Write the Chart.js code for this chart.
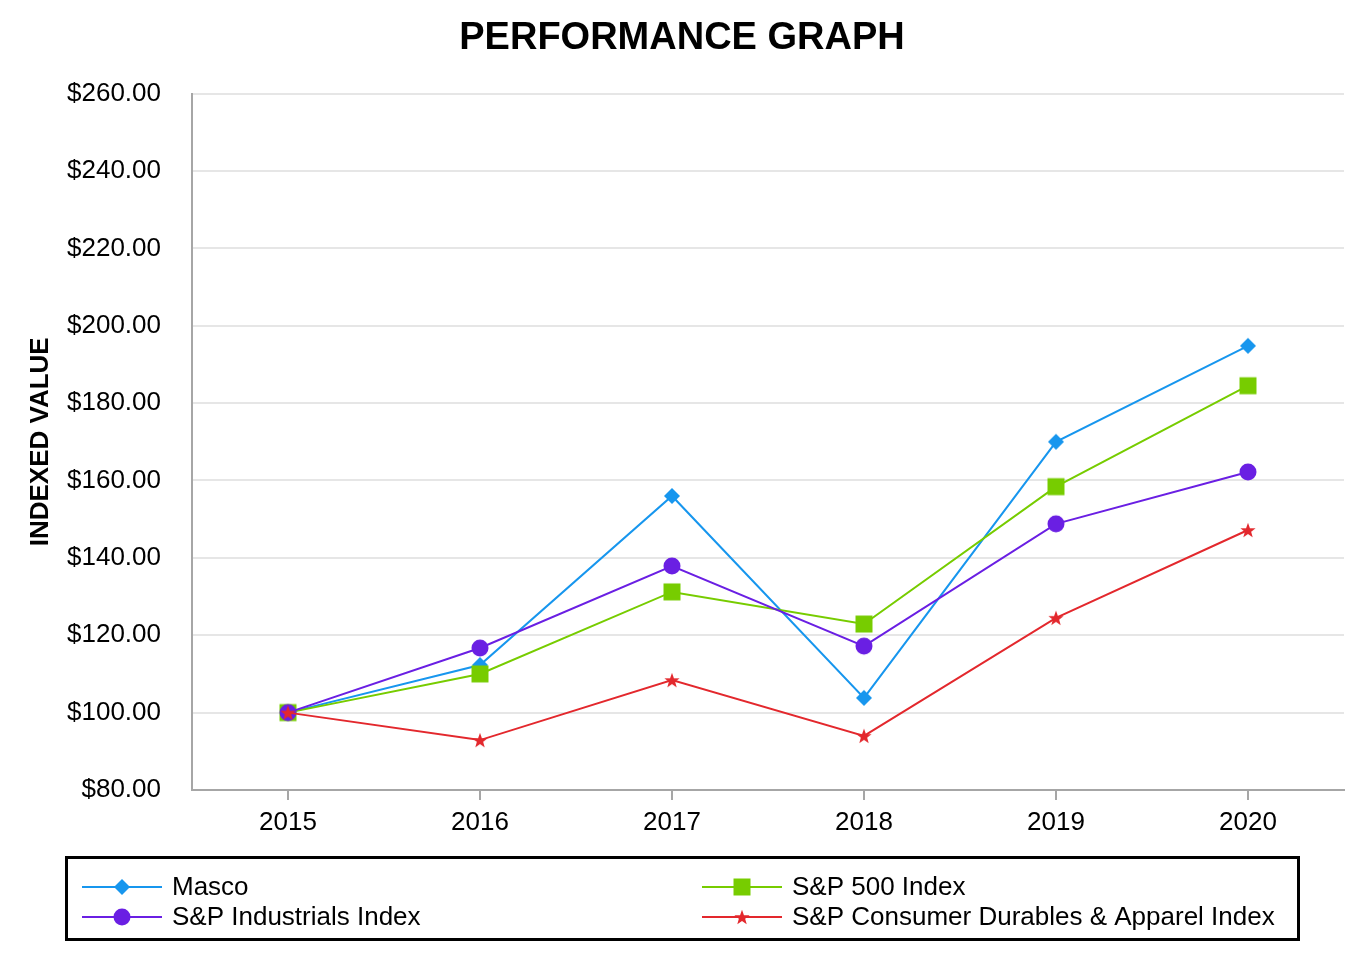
<!DOCTYPE html>
<html>
<head>
<meta charset="utf-8">
<script src="https://cdn.jsdelivr.net/npm/chart.js@4/dist/chart.umd.min.js"></script>
<style>
  html, body { margin: 0; padding: 0; background: #ffffff; }
  #wrap { width: 1364px; height: 960px; }
</style>
</head>
<body>
<div id="wrap"><canvas id="c" width="1364" height="960"></canvas></div>
<script>
const years = ['2015', '2016', '2017', '2018', '2019', '2020'];
const masco = [100.0, 112.3, 156.0, 103.8, 170.0, 194.8];
const sp500 = [100.0, 110.0, 131.2, 122.9, 158.4, 184.5];
const spIndustrials = [100.0, 116.7, 137.9, 117.2, 148.8, 162.2];
const spConsumer = [100.0, 92.9, 108.4, 94.0, 124.5, 147.2];
const seriesNames = ['Masco', 'S&P 500 Index', 'S&P Industrials Index', 'S&P Consumer Durables & Apparel Index'];

const COLORS = {
  masco: '#1796ee',
  sp500: '#77cc00',
  ind: '#6a1fe3',
  cons: '#e3282d'
};

function makeMarker(kind, color) {
  const s = 22;
  const c = document.createElement('canvas');
  c.width = s; c.height = s;
  const ctx = c.getContext('2d');
  ctx.fillStyle = color;
  const m = s / 2;
  ctx.beginPath();
  if (kind === 'diamond') {
    const r = 8;
    ctx.moveTo(m, m - r); ctx.lineTo(m + r, m); ctx.lineTo(m, m + r); ctx.lineTo(m - r, m);
    ctx.closePath();
  } else if (kind === 'square') {
    ctx.rect(m - 8.5, m - 8.5, 17, 17);
  } else if (kind === 'circle') {
    ctx.arc(m, m, 8.5, 0, Math.PI * 2);
  } else if (kind === 'star') {
    const R = 8, r = 3.3;
    for (let i = 0; i < 10; i++) {
      const a = -Math.PI / 2 + i * Math.PI / 5;
      const rr = i % 2 === 0 ? R : r;
      const x = m + rr * Math.cos(a), y = m + rr * Math.sin(a) + 0.8;
      if (i === 0) ctx.moveTo(x, y); else ctx.lineTo(x, y);
    }
    ctx.closePath();
  }
  ctx.fill();
  return c;
}

const markers = {
  masco: makeMarker('diamond', COLORS.masco),
  sp500: makeMarker('square', COLORS.sp500),
  ind: makeMarker('circle', COLORS.ind),
  cons: makeMarker('star', COLORS.cons)
};

const legendItems = [
  { text: seriesNames[0], color: COLORS.masco, marker: markers.masco, col: 0, row: 0 },
  { text: seriesNames[1], color: COLORS.sp500, marker: markers.sp500, col: 1, row: 0 },
  { text: seriesNames[2], color: COLORS.ind, marker: markers.ind, col: 0, row: 1 },
  { text: seriesNames[3], color: COLORS.cons, marker: markers.cons, col: 1, row: 1 }
];

const legendPlugin = {
  id: 'boxLegend',
  afterDraw(chart) {
    const ctx = chart.ctx;
    ctx.save();
    ctx.lineWidth = 3;
    ctx.strokeStyle = '#000000';
    ctx.strokeRect(66.5, 857.5, 1232, 82);
    const colX = [82, 702];
    const rowY = [887, 917];
    ctx.font = '26px "Liberation Sans", Arial, sans-serif';
    ctx.textBaseline = 'middle';
    ctx.fillStyle = '#000000';
    legendItems.forEach(it => {
      const x = colX[it.col], y = rowY[it.row];
      ctx.strokeStyle = it.color;
      ctx.lineWidth = 2;
      ctx.beginPath();
      ctx.moveTo(x, y); ctx.lineTo(x + 80, y);
      ctx.stroke();
      ctx.drawImage(it.marker, x + 40 - 11, y - 11);
      ctx.fillStyle = '#000000';
      ctx.fillText(it.text, x + 90, y + 1);
    });
    ctx.restore();
  }
};

function ds(label, data, color, marker, order) {
  return {
    label, data,
    borderColor: color,
    backgroundColor: color,
    borderWidth: 2,
    pointStyle: marker,
    pointRadius: 8,
    pointHoverRadius: 8,
    tension: 0,
    fill: false,
    order
  };
}

new Chart(document.getElementById('c'), {
  type: 'line',
  data: {
    labels: years,
    datasets: [
      ds(seriesNames[0], masco, COLORS.masco, markers.masco, 3),
      ds(seriesNames[1], sp500, COLORS.sp500, markers.sp500, 2),
      ds(seriesNames[2], spIndustrials, COLORS.ind, markers.ind, 1),
      ds(seriesNames[3], spConsumer, COLORS.cons, markers.cons, 0)
    ]
  },
  options: {
    responsive: false,
    animation: false,
    devicePixelRatio: 1,
    layout: { padding: { left: 20, right: 20, top: 0, bottom: 0 } },
    plugins: {
      legend: { display: false },
      tooltip: { enabled: false },
      title: {
        display: true,
        text: 'PERFORMANCE GRAPH',
        color: '#000000',
        font: { family: '"Liberation Sans", Arial, sans-serif', size: 38, weight: 'bold' },
        padding: { top: 16, bottom: 32 }
      }
    },
    scales: {
      x: {
        type: 'category',
        offset: true,
        grid: {
          display: true,
          drawOnChartArea: false,
          drawTicks: true,
          tickLength: 10,
          offset: false,
          color: '#a6a6a6',
          lineWidth: 2
        },
        border: { display: true, color: '#a6a6a6', width: 2 },
        ticks: {
          color: '#000000',
          padding: 7,
          maxRotation: 0,
          font: { family: '"Liberation Sans", Arial, sans-serif', size: 26 }
        },
        afterFit(scale) { scale.height = 170; }
      },
      y: {
        min: 80,
        max: 260,
        grid: { color: '#e6e6e6', lineWidth: 2, drawTicks: false },
        border: { display: true, color: '#a6a6a6', width: 2 },
        ticks: {
          stepSize: 20,
          color: '#000000',
          padding: 31,
          font: { family: '"Liberation Sans", Arial, sans-serif', size: 26 },
          callback: v => '$' + Number(v).toFixed(2)
        },
        title: {
          display: true,
          text: 'INDEXED VALUE',
          color: '#000000',
          font: { family: '"Liberation Sans", Arial, sans-serif', size: 26, weight: 'bold' },
          padding: { top: 5, bottom: 0 }
        },
        afterFit(scale) { scale.width = 172; }
      }
    }
  },
  plugins: [legendPlugin]
});
</script>
</body>
</html>
